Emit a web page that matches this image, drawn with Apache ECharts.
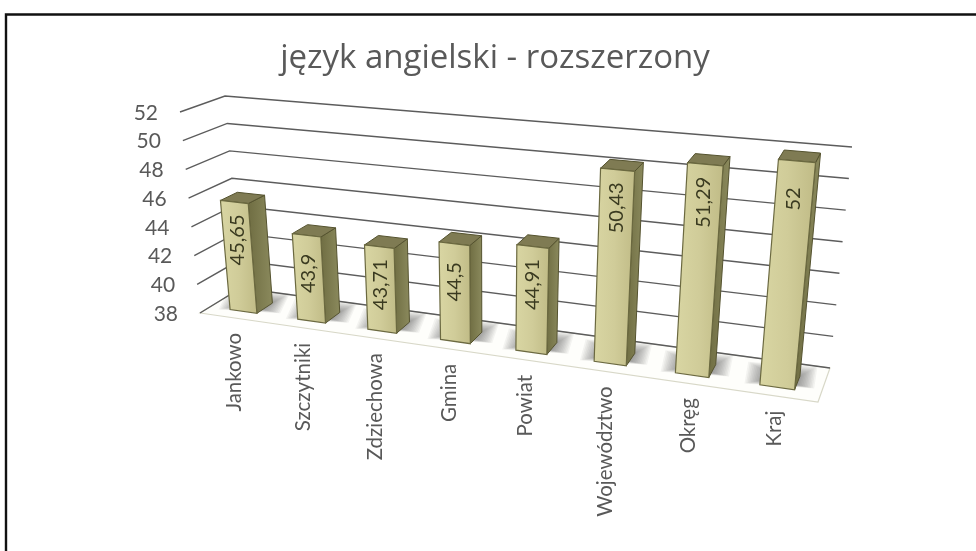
<!DOCTYPE html>
<html><head><meta charset="utf-8">
<style>html,body{margin:0;padding:0;background:#fff}#c{width:976px;height:551px}</style>
<script src="https://cdn.jsdelivr.net/npm/echarts@6/dist/echarts.min.js"></script>
</head><body><div id="c"></div>
<script>
const categories = ['Jankowo','Szczytniki','Zdziechowa','Gmina','Powiat','Województwo','Okręg','Kraj'];
const values = [45.65,43.9,43.71,44.5,44.91,50.43,51.29,52];
const yTicks = [38,40,42,44,46,48,50,52];
const title = 'język angielski - rozszerzony';

const FONT = 'Lato, "Open Sans", sans-serif';
// corners of the drawn box [depth v][side u][height w]
const C = {
  f0:[[200,313],[180,112]], f1:[[818,402],[841,171]],
  b0:[[241,288],[225,96]],  b1:[[830,368],[852,147]]
};
const Q = 1.16;
const persp = u => u/(Q*(1-u)+u);
const mix = (a,b,t)=>[a[0]+(b[0]-a[0])*t,a[1]+(b[1]-a[1])*t];
function P(u,v,w){
  const s = persp(u);
  const front = mix(mix(C.f0[0],C.f0[1],w),mix(C.f1[0],C.f1[1],w),s);
  const back  = mix(mix(C.b0[0],C.b0[1],w),mix(C.b1[0],C.b1[1],w),s);
  return mix(front,back,v);
}
// pixel from the hidden cartesian scales -> normalised box coordinates
function norm(api,params,cat,val){
  const pt = api.coord([cat,val]), g = params.coordSys;
  return {u:(pt[0]-g.x)/g.width, w:(g.y+g.height-pt[1])/g.height, band:api.size([1,0])[0]/g.width};
}

function renderWall(params,api){
  const val = api.value(1);
  const n = norm(api,params,0,val), w = n.w;
  const a=P(0,0,w), b=P(0,1,w), c=P(1,1,w);
  return {type:'group',children:[
    {type:'polyline',shape:{points:[a,b,c]},style:{stroke:'#5c5c5c',lineWidth:1.4,fill:null}},
    {type:'text',x:a[0]-22,y:a[1]+1,style:{text:String(val),font:'21px '+FONT,fill:'#595959',align:'right',verticalAlign:'middle'}}
  ]};
}
function renderFloor(params,api){
  const pts=[P(0,0,0),P(1,0,0),P(1,1,0),P(0,1,0)];
  return {type:'group',children:[
    {type:'polygon',shape:{points:pts},style:{fill:'#fefefb',stroke:'#d8d8c8',lineWidth:1.2}},
    {type:'polyline',shape:{points:[P(0,0,0),P(0,1,0),P(1,1,0)]},style:{stroke:'#5c5c5c',lineWidth:1.4,fill:null}}
  ]};
}
const V0=.25, V1=.65, WID=.4;
function renderShadow(params,api){
  const i=api.value(0);
  const n=norm(api,params,i,38), d=n.band*WID/2;
  const base=[P(n.u-d,V0+.15,0),P(n.u+d,V0+.15,0),P(n.u+d,V1,0),P(n.u-d,V1,0)];
  const dirs=[[-1,.3],[1,.3],[1,-.8],[-1,-.8]];
  const kids=[];
  for(let k=11;k>=0;k--){
    const s=k*1.6;
    kids.push({type:'polygon',shape:{points:base.map((p,j)=>[p[0]+dirs[j][0]*s,p[1]+dirs[j][1]*s*.7])},
      style:{fill:'rgba(60,60,60,.06)'}});
  }
  return {type:'group',children:kids};
}
function renderBar(params,api){
  const i=api.value(0), val=api.value(1);
  const n=norm(api,params,i,val), d=n.band*WID/2, u0=n.u-d, u1=n.u+d, w=n.w;
  const fl=P(u0,V0,0),fr=P(u1,V0,0),tl=P(u0,V0,w),tr=P(u1,V0,w);
  const bl=P(u0,V1,w),br=P(u1,V1,w),sb=P(u1,V1,0);
  const edge='#55532f';
  const mid=mix(tl,tr,.5);
  const bot=mix(fl,fr,.5);
  const h=bot[1]-mid[1], off=Math.min(36,h/2), t=off/h;
  const lab=mix(mid,bot,t);
  return {type:'group',children:[
    {type:'polygon',shape:{points:[tr,br,sb,fr]},style:{fill:new echarts.graphic.LinearGradient(0,0,1,0,[{offset:0,color:'#6f6d42'},{offset:1,color:'#8b8a5d'}]),stroke:edge,lineWidth:1}},
    {type:'polygon',shape:{points:[tl,bl,br,tr]},style:{fill:'#7f7b53',stroke:edge,lineWidth:1}},
    {type:'polygon',shape:{points:[tl,tr,fr,fl]},style:{fill:new echarts.graphic.LinearGradient(0,0,1,0,[{offset:0,color:'#d9d6a3'},{offset:.5,color:'#d0cc99'},{offset:1,color:'#c0bb86'}]),stroke:'#6b6940',lineWidth:1.2}},
    {type:'text',x:lab[0],y:lab[1]+2,rotation:Math.PI/2,style:{text:String(val).replace('.',','),font:'20px '+FONT,fill:'#3a3a20',align:'center',verticalAlign:'middle'}}
  ]};
}
function renderCat(params,api){
  const i=api.value(0);
  const n=norm(api,params,i,38), p=P(n.u,0,0);
  return {type:'text',x:p[0]+1,y:p[1]+15,rotation:Math.PI/2,style:{text:categories[i],font:'20.5px '+FONT,fill:'#595959',align:'right',verticalAlign:'middle'}};
}

const chart = echarts.init(document.getElementById('c'));
const tickData = yTicks.map(v=>[0,v]);
const barData = values.map((v,i)=>[i,v]);
const common = {type:'custom',clip:false,silent:true,encode:{x:0,y:1}};
chart.setOption({
  animation:false,
  backgroundColor:'#fff',
  title:{text:title,left:490,top:37,textAlign:'center',textStyle:{fontFamily:'"Open Sans", sans-serif',fontSize:33,fontWeight:'normal',color:'#595959'}},
  graphic:[
    {type:'polyline',shape:{points:[[6,551],[6,14.5],[976,14.5]]},style:{stroke:'#111',lineWidth:2.4,fill:null}}
  ],
  grid:{left:200,top:100,width:620,height:280},
  xAxis:{type:'category',data:categories,show:false},
  yAxis:{type:'value',min:38,max:52,interval:2,show:false},
  series:[
    {...common,data:[[0,38]],renderItem:renderFloor,z:1},
    {...common,data:tickData.slice(1),renderItem:renderWall,z:2},
    {...common,data:tickData.slice(0,1),renderItem:(p,a)=>{const g=renderWall(p,a);g.children.shift();return g;},z:2},
    {...common,data:barData,renderItem:renderShadow,z:3},
    {...common,data:barData,renderItem:renderBar,z:4},
    {...common,data:barData,renderItem:renderCat,z:5}
  ]
});
</script></body></html>
